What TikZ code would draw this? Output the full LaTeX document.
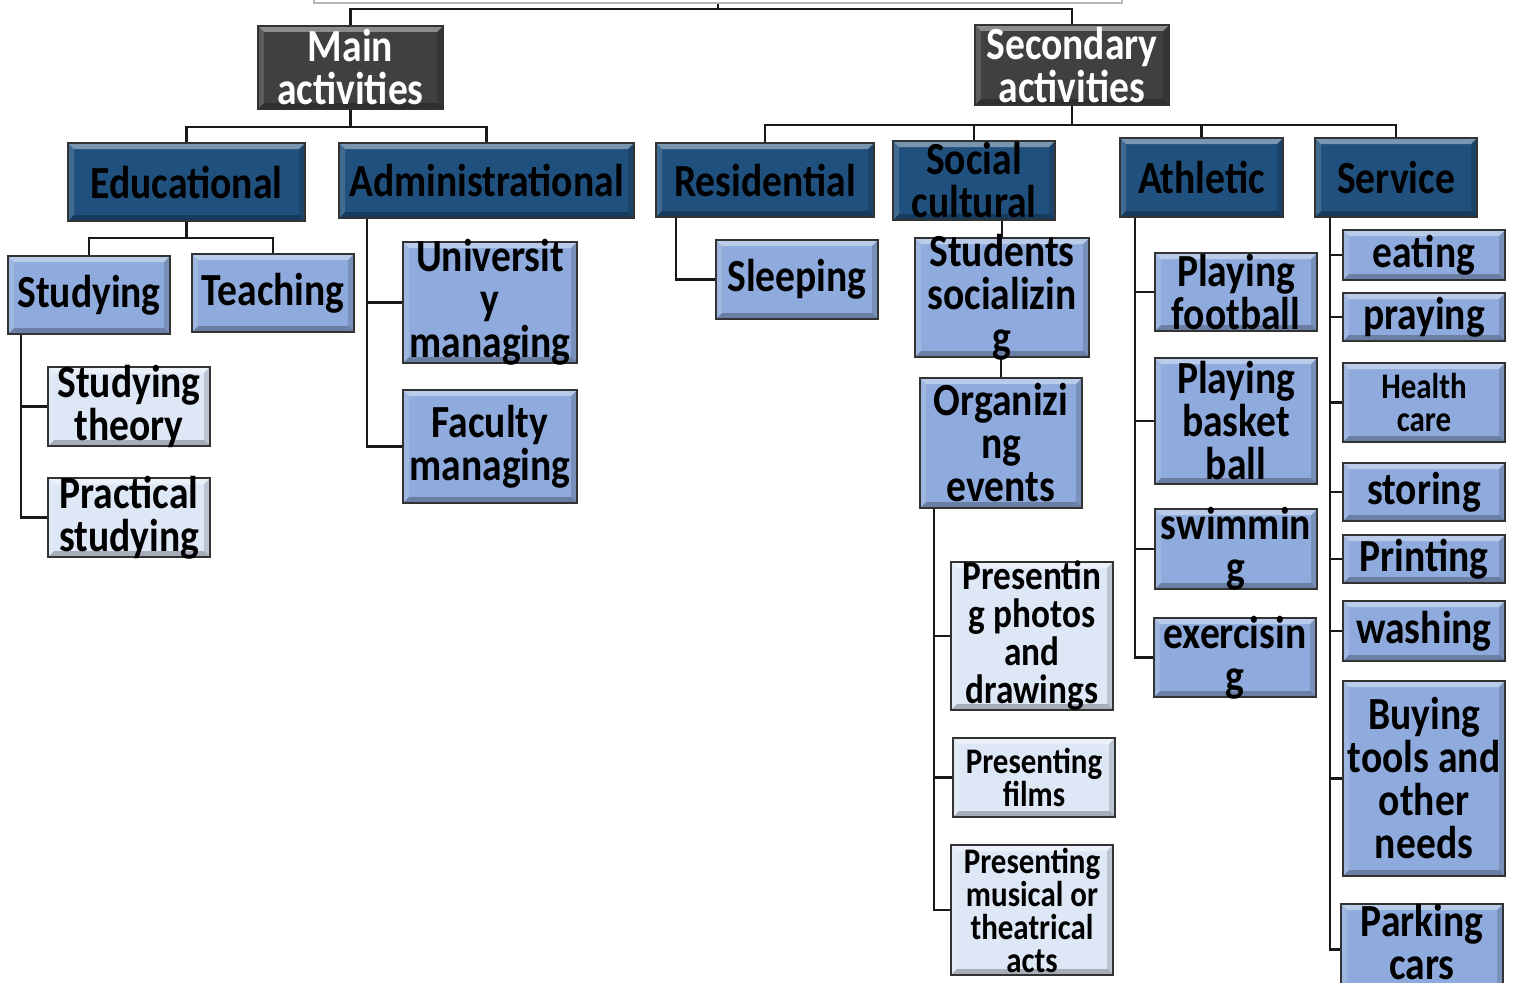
\documentclass[tikz,border=0pt]{standalone}
\usepackage{fontspec}
\setmainfont{Carlito}[FakeStretch=0.86]

\definecolor{boxgray}{RGB}{64,64,64}
\definecolor{navy}{RGB}{32,80,125}
\definecolor{midblue}{RGB}{143,170,220}
\definecolor{paleblue}{RGB}{222,231,246}

\pgfdeclarelayer{lines}
\pgfsetlayers{lines,main}

\tikzset{
  conn/.style={draw=black!90, line width=2.2pt},
  bevel/.style={path picture={
    \coordinate (bvnw) at (path picture bounding box.north west);
    \coordinate (bvne) at (path picture bounding box.north east);
    \coordinate (bvsw) at (path picture bounding box.south west);
    \coordinate (bvse) at (path picture bounding box.south east);
    \fill[white,opacity=.4] (bvnw) -- (bvne) -- ([shift={(-6pt,-6pt)}]bvne) -- ([shift={(6pt,-6pt)}]bvnw) -- cycle;
    \fill[white,opacity=.15] (bvnw) -- (bvsw) -- ([shift={(6pt,6pt)}]bvsw) -- ([shift={(6pt,-6pt)}]bvnw) -- cycle;
    \fill[black,opacity=.15] (bvne) -- (bvse) -- ([shift={(-6pt,6pt)}]bvse) -- ([shift={(-6pt,-6pt)}]bvne) -- cycle;
    \fill[black,opacity=.25] (bvsw) -- (bvse) -- ([shift={(-6pt,6pt)}]bvse) -- ([shift={(6pt,6pt)}]bvsw) -- cycle;
  }},
  basebox/.style={rectangle, draw=black!80, line width=1.6pt, inner sep=0pt, bevel},
  graybox/.style={basebox, fill=boxgray},
  navybox/.style={basebox, fill=navy},
  midbox/.style={basebox, fill=midblue},
  palebox/.style={basebox, fill=paleblue},
  txt/.style={align=center, inner sep=0pt, text=black,
    font=\bfseries\fontsize{46}{43}\selectfont},
  wtxt/.style={text=white},
  smalltxt/.style={font=\bfseries\fontsize{36}{33}\selectfont},
  medtxt/.style={font=\bfseries\fontsize{41}{38}\selectfont},
}

% box: [text options]{name}{style}{x1}{y1}{x2}{y2}{text}
\newcommand\bx[8][]{%
  \node[#3, minimum width={(#6-#4)*1pt}, minimum height={(#7-#5)*1pt}]
    (#2) at ({(#4+#6)/2},{(#5+#7)/2}) {};
  \node[txt,#1] at (#2.center) {#8};
}

\begin{document}
\begin{tikzpicture}[x=1pt,y=-1pt]
\useasboundingbox (0,0) rectangle (1517,982);

% top of the root box
\node[rectangle, draw=gray!55, line width=2pt, fill=white,
      minimum width=808pt, minimum height=40pt] (root) at (718,-17) {};

\bx[wtxt]{main}{graybox}{258}{26}{443}{109}{Main\\activities}
\bx[wtxt]{sec}{graybox}{975}{25}{1169}{105}{Secondary\\activities}

\bx{edu}{navybox}{68}{143}{305}{221}{Educational}
\bx{adm}{navybox}{339}{143}{634}{218}{Administrational}
\bx{res}{navybox}{656}{143}{874}{217}{Residential}
\bx{soc}{navybox}{893}{141}{1055}{220}{Social\\cultural}
\bx{ath}{navybox}{1120}{138}{1283}{217}{Athletic}
\bx{ser}{navybox}{1315}{138}{1477}{217}{Service}

\bx{stu}{midbox}{8}{256}{170}{334}{Studying}
\bx{tea}{midbox}{192}{254}{354}{332}{Teaching}
\bx{sth}{palebox}{48}{367}{210}{446}{Studying\\theory}
\bx{pst}{palebox}{48}{478}{210}{557}{Practical\\studying}

\bx{uni}{midbox}{403}{242}{577}{363}{Universit\\y\\managing}
\bx{fac}{midbox}{403}{390}{577}{503}{Faculty\\managing}

\bx{slp}{midbox}{716}{240}{878}{319}{Sleeping}

\bx{sts}{midbox}{915}{238}{1089}{357}{Students\\socializin\\g}
\bx{org}{midbox}{920}{378}{1082}{508}{Organizi\\ng\\events}
\bx[medtxt]{pph}{palebox}{951}{562}{1113}{710}{Presentin\\g photos\\and\\drawings}
\bx[smalltxt]{pfl}{palebox}{953}{738}{1115}{817}{Presenting\\films}
\bx[smalltxt]{pmu}{palebox}{951}{845}{1113}{975}{Presenting\\musical or\\theatrical\\acts}

\bx{foo}{midbox}{1155}{253}{1317}{331}{Playing\\football}
\bx{bas}{midbox}{1155}{358}{1317}{484}{Playing\\basket\\ball}
\bx{swi}{midbox}{1155}{509}{1317}{589}{swimmin\\g}
\bx{exe}{midbox}{1154}{618}{1316}{697}{exercisin\\g}

\bx{eat}{midbox}{1343}{230}{1505}{280}{eating}
\bx{pra}{midbox}{1343}{293}{1505}{341}{praying}
\bx[smalltxt]{hea}{midbox}{1343}{363}{1505}{442}{Health\\care}
\bx{sto}{midbox}{1343}{463}{1505}{521}{storing}
\bx{pri}{midbox}{1343}{535}{1505}{583}{Printing}
\bx{was}{midbox}{1343}{601}{1505}{661}{washing}
\bx{buy}{midbox}{1343}{681}{1505}{876}{Buying\\tools and\\other\\needs}
\bx[yshift=7pt]{par}{midbox}{1341}{904}{1503}{995}{Parking\\cars}

\begin{pgfonlayer}{lines}
  % top levels
  \draw[conn] (root.south) -- ++(0,5) -| (main.north);
  \draw[conn] (root.south) -- ++(0,5) -| (sec.north);
  \draw[conn] (main.south) -- ++(0,17) -| (edu.north);
  \draw[conn] (main.south) -- ++(0,17) -| (adm.north);
  \draw[conn] (sec.south) -- ++(0,19) -| (res.north);
  \draw[conn] (sec.south) -- ++(0,19) -| (soc.north);
  \draw[conn] (sec.south) -- ++(0,19) -| (ath.north);
  \draw[conn] (sec.south) -- ++(0,19) -| (ser.north);
  % educational
  \draw[conn] (edu.south) -- ++(0,16) -| (stu.north);
  \draw[conn] (edu.south) -- ++(0,16) -| (tea.north);
  \draw[conn] ([xshift=14pt]stu.south west) |- (sth.west);
  \draw[conn] ([xshift=14pt]stu.south west) |- (pst.west);
  % administrational
  \draw[conn] ([xshift=29pt]adm.south west) |- (uni.west);
  \draw[conn] ([xshift=29pt]adm.south west) |- (fac.west);
  % residential
  \draw[conn] ([xshift=21pt]res.south west) |- (slp.west);
  % social cultural
  \draw[conn] (sts.north |- soc.south) -- (sts.north);
  \draw[conn] (org.north |- sts.south) -- (org.north);
  \draw[conn] ([xshift=15pt]org.south west) |- (pph.west);
  \draw[conn] ([xshift=15pt]org.south west) |- (pfl.west);
  \draw[conn] ([xshift=15pt]org.south west) |- (pmu.west);
  % athletic
  \foreach \c in {foo,bas,swi,exe}
    \draw[conn] ([xshift=16pt]ath.south west) |- (\c.west);
  % service
  \foreach \c in {eat,pra,hea,sto,pri,was,buy,par}
    \draw[conn] ([xshift=16pt]ser.south west) |- (\c.west);
\end{pgfonlayer}
\end{tikzpicture}
\end{document}
